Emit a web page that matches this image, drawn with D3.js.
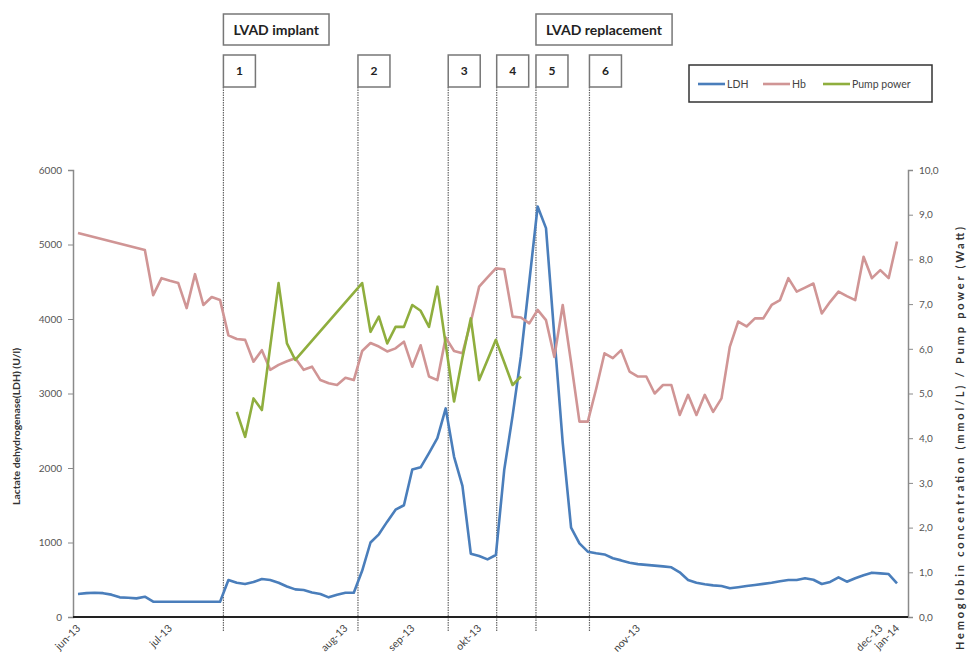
<!DOCTYPE html>
<html>
<head>
<meta charset="utf-8">
<script src="https://cdn.jsdelivr.net/npm/d3@7"></script>
<style>
  body { margin: 0; background: #fff; }
  svg { display: block; font-family: Lato, "Open Sans", sans-serif; }
</style>
</head>
<body>
<div id="chart"></div>
<script>
// Data (one value per sample, null = no measurement)
const tickIndex = [0, 11, 32, 40, 48, 67, 96, 98];
const tickLabels = ["jun-13", "jul-13", "aug-13", "sep-13", "okt-13", "nov-13", "dec-13", "jan-14"];

const ldh = [309, 320, 326, 320, 300, 264, 258, 250, 272, 205,
  205, 205, 205, 205, 205, 205, 205, 205, 497, 460,
  443, 470, 510, 497, 460, 410, 371, 362, 330, 309,
  264, 300, 326, 326, 620, 1000, 1110, 1280, 1440, 1500,
  1980, 2009, 2200, 2400, 2800, 2150, 1760, 850, 819, 774,
  832, 1973, 2700, 3500, 4500, 5510, 5220, 3770, 2340, 1200,
  989, 877, 855, 840, 788, 760, 729, 710, 700, 690,
  680, 667, 600, 497, 461, 440, 425, 416, 385, 400,
  416, 430, 445, 460, 480, 497, 497, 519, 500, 443,
  470, 533, 474, 520, 560, 595, 585, 577, 452];

const hb = [8.59, null, null, null, null, null, null, null, 8.21, 7.20,
  7.58, 7.52, 7.47, 6.91, 7.67, 6.98, 7.16, 7.09, 6.30, 6.22,
  6.20, 5.71, 5.97, 5.53, 5.64, 5.72, 5.79, 5.53, 5.60, 5.30,
  5.23, 5.19, 5.35, 5.30, 5.95, 6.13, 6.05, 5.94, 6.01, 6.16,
  5.60, 6.08, 5.38, 5.30, 6.25, 5.95, 5.90, 6.60, 7.39, 7.60,
  7.80, 7.78, 6.72, 6.70, 6.57, 6.87, 6.64, 5.82, 6.98, 5.70,
  4.37, 4.37, 5.10, 5.90, 5.79, 5.97, 5.49, 5.38, 5.38, 5.00,
  5.19, 5.19, 4.52, 4.97, 4.52, 4.97, 4.59, 4.89, 6.05, 6.61,
  6.50, 6.68, 6.68, 6.98, 7.09, 7.58, 7.28, 7.37, 7.46, 6.79,
  7.05, 7.28, 7.18, 7.09, 8.06, 7.58, 7.76, 7.58, 8.40];

const pump = [null, null, null, null, null, null, null, null, null, null,
  null, null, null, null, null, null, null, null, null, 4.59,
  4.03, 4.89, 4.63, 6.05, 7.47, 6.12, 5.75, null, null, null,
  null, null, null, null, 7.47, 6.38, 6.72, 6.12, 6.49, 6.49,
  6.98, 6.85, 6.49, 7.39, 6.10, 4.82, 5.80, 6.68, 5.30, 5.75,
  6.20, 5.70, 5.19, 5.38];

const eventIndex = [17.4, 33.5, 44.3, 50.1, 54.8, 61.2];
const eventLabels = ["1", "2", "3", "4", "5", "6"];
const phaseLabels = ["LVAD implant", "LVAD replacement"];
const phaseEvent = [0, 4];

const seriesNames = ["LDH", "Hb", "Pump power"];
const seriesColors = ["#4a7ebb", "#d09595", "#8fae3e"];

// Layout
const width = 971, height = 662;
const plot = { left: 73, right: 908, top: 170, bottom: 617 };

const svg = d3.select("#chart").append("svg")
  .attr("width", width)
  .attr("height", height);

const x = d3.scaleLinear().domain([0, ldh.length - 1]).range([78, 897]);
const yL = d3.scaleLinear().domain([0, 6000]).range([plot.bottom, plot.top]);
const yR = d3.scaleLinear().domain([0, 10]).range([plot.bottom, plot.top]);

// Left axis
const axL = svg.append("g")
  .attr("transform", `translate(${plot.left},0)`)
  .call(d3.axisLeft(yL).tickValues(d3.range(0, 6001, 1000)).tickFormat(d3.format("d"))
    .tickSizeOuter(0).tickSize(5).tickPadding(6));
axL.select(".domain").attr("stroke", "#8a8a8a").attr("stroke-width", 1.5);
axL.selectAll(".tick line").attr("stroke", "#8a8a8a");
axL.selectAll(".tick text").attr("fill", "#555").attr("font-size", 10).attr("font-family", "Lato, sans-serif");

// Right axis
const axR = svg.append("g")
  .attr("transform", `translate(${plot.right},0)`)
  .call(d3.axisRight(yR).tickValues(d3.range(0, 11)).tickSizeOuter(0).tickSize(5).tickPadding(6)
    .tickFormat(d => d3.format(".1f")(d).replace(".", ",")));
axR.select(".domain").attr("stroke", "#8a8a8a").attr("stroke-width", 1.5);
axR.selectAll(".tick line").attr("stroke", "#8a8a8a");
axR.selectAll(".tick text").attr("fill", "#555").attr("font-size", 10).attr("font-family", "Lato, sans-serif");

// Axis titles
svg.append("text")
  .attr("transform", `translate(20,${(348 + 505) / 2}) rotate(-90)`)
  .attr("text-anchor", "middle")
  .attr("font-size", 10).attr("font-weight", "bold").attr("fill", "#333")
  .attr("textLength", 157).attr("lengthAdjust", "spacingAndGlyphs")
  .text("Lactate dehydrogenase(LDH) (U/l)");

svg.append("text")
  .attr("transform", `translate(964,${(227 + 650) / 2}) rotate(-90)`)
  .attr("text-anchor", "middle")
  .attr("font-size", 11).attr("font-weight", "bold").attr("fill", "#333")
  .attr("textLength", 423).attr("lengthAdjust", "spacing")
  .text("Hemoglobin concentration (mmol/L) / Pump power (Watt)");

// Event lines
svg.append("g").selectAll("line")
  .data(eventIndex)
  .join("line")
  .attr("x1", d => x(d)).attr("x2", d => x(d))
  .attr("y1", 87).attr("y2", 632)
  .attr("stroke", "#666")
  .attr("stroke-width", 1.2)
  .attr("stroke-dasharray", "1.5,1");

// Series lines (gaps connected like the source)
const seriesData = [ldh, hb, pump];
const seriesScale = [yL, yR, yR];
seriesData.forEach((values, k) => {
  const pts = values.map((v, i) => ({ i, v })).filter(d => d.v != null);
  const line = d3.line().x(d => x(d.i)).y(d => seriesScale[k](d.v));
  svg.append("path")
    .datum(pts)
    .attr("fill", "none")
    .attr("stroke", seriesColors[k])
    .attr("stroke-width", 2.6)
    .attr("stroke-linejoin", "round")
    .attr("d", line);
});

// Bottom axis line + month labels
svg.append("line")
  .attr("x1", plot.left).attr("x2", plot.right)
  .attr("y1", plot.bottom).attr("y2", plot.bottom)
  .attr("stroke", "#222").attr("stroke-width", 2);

svg.append("g").selectAll("text")
  .data(tickIndex)
  .join("text")
  .attr("transform", d => `translate(${x(d) + 3},${plot.bottom + 12}) rotate(-45)`)
  .attr("text-anchor", "end")
  .attr("font-size", 10.5)
  .attr("fill", "#444")
  .text((d, i) => tickLabels[i]);

// Event number boxes
const nb = svg.append("g").selectAll("g")
  .data(eventIndex)
  .join("g")
  .attr("transform", d => `translate(${x(d)},55)`);
nb.append("rect")
  .attr("width", 32).attr("height", 32)
  .attr("fill", "#fff").attr("stroke", "#777").attr("stroke-width", 1.5);
nb.append("text")
  .attr("x", 16).attr("y", 20)
  .attr("text-anchor", "middle")
  .attr("font-size", 12).attr("font-weight", "bold").attr("fill", "#222")
  .text((d, i) => eventLabels[i]);

// Phase boxes
const pb = svg.append("g").selectAll("g")
  .data(phaseLabels)
  .join("g")
  .attr("transform", (d, i) => `translate(${x(eventIndex[phaseEvent[i]])},14)`);
const pbText = pb.append("text")
  .attr("y", 20.5)
  .attr("font-size", 14).attr("font-weight", "bold").attr("fill", "#222")
  .text(d => d);
pbText.each(function () {
  const w = this.getComputedTextLength();
  const pad = 10;
  d3.select(this).attr("x", pad);
  d3.select(this.parentNode).insert("rect", "text")
    .attr("width", w + pad * 2).attr("height", 31)
    .attr("fill", "#fff").attr("stroke", "#777").attr("stroke-width", 1.5);
});

// Legend
const legend = svg.append("g").attr("transform", "translate(689,65)");
legend.append("rect")
  .attr("width", 243).attr("height", 37)
  .attr("fill", "#fff").attr("stroke", "#333").attr("stroke-width", 1.5);
const legendX = [9, 74, 134];
const li = legend.selectAll("g.item")
  .data(seriesNames)
  .join("g")
  .attr("class", "item")
  .attr("transform", (d, i) => `translate(${legendX[i]},19)`);
li.append("line")
  .attr("x1", 0).attr("x2", 27)
  .attr("stroke", (d, i) => seriesColors[i])
  .attr("stroke-width", 2.6);
li.append("text")
  .attr("x", 29).attr("y", 3.5)
  .attr("font-size", 10.5).attr("fill", "#444")
  .text(d => d);
</script>
</body>
</html>
